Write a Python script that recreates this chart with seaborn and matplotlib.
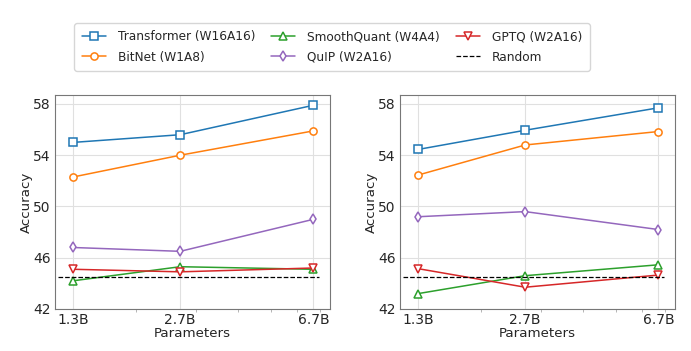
import matplotlib
matplotlib.use("Agg")
import matplotlib.pyplot as plt
import matplotlib.ticker as mticker
import seaborn as sns
import numpy as np

# model sizes (billions) and their tick labels
params = [1.3, 2.7, 6.7]
param_labels = ["1.3B", "2.7B", "6.7B"]

# left panel accuracies
left_transformer = [55.0, 55.6, 57.9]
left_bitnet = [52.3, 54.0, 55.9]
left_smoothquant = [44.2, 45.3, 45.1]
left_quip = [46.8, 46.5, 49.0]
left_gptq = [45.1, 44.9, 45.2]

# right panel accuracies
right_transformer = [54.45, 55.95, 57.7]
right_bitnet = [52.45, 54.8, 55.85]
right_smoothquant = [43.2, 44.6, 45.45]
right_quip = [49.2, 49.6, 48.2]
right_gptq = [45.15, 43.7, 44.65]

random_acc = 44.5

names = ["Transformer (W16A16)", "BitNet (W1A8)", "SmoothQuant (W4A4)",
         "QuIP (W2A16)", "GPTQ (W2A16)"]
colors = ["#1f77b4", "#ff7f0e", "#2ca02c", "#9467bd", "#d62728"]
markers = ["s", "o", "^", "d", "v"]

panels = [
    [left_transformer, left_bitnet, left_smoothquant, left_quip, left_gptq],
    [right_transformer, right_bitnet, right_smoothquant, right_quip, right_gptq],
]

sns.set_style("whitegrid", {"axes.edgecolor": "#777777", "grid.color": "#e0e0e0"})
plt.rcParams['font.family'] = ['DejaVu Sans']

fig = plt.figure(figsize=(6.91, 3.51), dpi=100)
ax1 = fig.add_axes([55/691, 1-309/351, 275/691, 214/351])
ax2 = fig.add_axes([400/691, 1-309/351, 275/691, 214/351])

for ax, series in zip([ax1, ax2], panels):
    for vals, name, c, m in zip(series, names, colors, markers):
        sns.lineplot(x=params, y=vals, color=c, marker=m, markersize=5.2,
                     markerfacecolor="white", markeredgecolor=c,
                     markeredgewidth=1.1, linewidth=1.1, label=name, ax=ax)
    ax.plot([1.17, 6.95], [random_acc, random_acc], "k--", linewidth=0.9, label="Random")
    ax.set_xscale("log")
    ax.set_xlim(1.15, 7.5)
    ax.set_ylim(42, 58.7)
    ax.set_xticks(params)
    ax.set_xticklabels(param_labels)
    ax.xaxis.set_minor_formatter(mticker.NullFormatter())
    ax.tick_params(axis="x", which="minor", length=2, color="#aaaaaa", bottom=True)
    ax.tick_params(axis="both", which="major", labelsize=10, length=0, pad=3)
    ax.set_yticks([42, 46, 50, 54, 58])
    ax.set_xlabel("Parameters", fontsize=9.6, labelpad=0)
    ax.set_ylabel("Accuracy", fontsize=9.6, labelpad=0)
    ax.get_legend().remove()

handles, labels = ax1.get_legend_handles_labels()
fig.legend(handles, labels, loc="center", bbox_to_anchor=(332/691, 1-47/351),
           ncol=3, fontsize=8.7, frameon=True, handlelength=2.0,
           handletextpad=1.0, columnspacing=1.3, borderpad=0.6, labelspacing=0.6)

fig.savefig("out.png", dpi=100)
